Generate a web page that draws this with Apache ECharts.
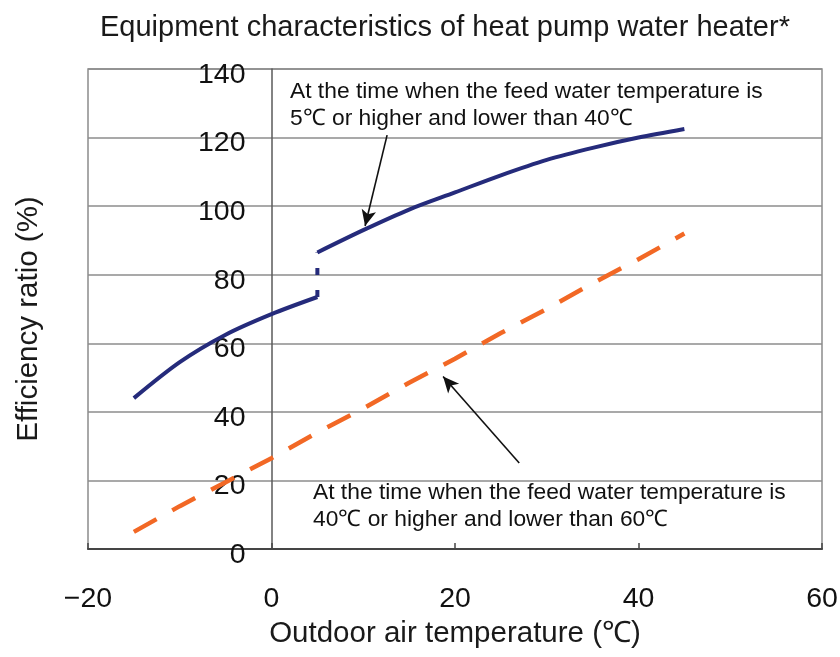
<!DOCTYPE html>
<html>
<head>
<meta charset="utf-8">
<script src="https://cdn.jsdelivr.net/npm/echarts@6/dist/echarts.min.js"></script>
<style>
  html, body { margin: 0; padding: 0; background: #fff; }
  #chart { width: 840px; height: 657px; }
</style>
</head>
<body>
<div id="chart"></div>
<script>
// Outdoor air temperature (°C) vs efficiency ratio (%)
const xTicks = { min: -20, max: 60, step: 20 };
const yTicks = { min: 0, max: 140, step: 20 };

// Feed water 5–40 °C: below 5 °C outdoor
const feed5to40Low = [[-15, 44], [-10, 54.5], [-5, 62.5], [0, 68.5], [5, 73.5]];
// Step at 5 °C outdoor
const feed5to40Step = [[5, 73.5], [5, 86.5]];
// Feed water 5–40 °C: 5 °C outdoor and above
const feed5to40High = [[5, 86.5], [10, 93], [15, 99], [20, 104], [25, 109], [30, 113.5], [35, 117], [40, 120], [45, 122.5]];
// Feed water 40–60 °C
const feed40to60 = [[-15, 5], [-10, 12.5], [-5, 19.5], [0, 26.5], [5, 34], [10, 41], [15, 48.5], [20, 55.5], [25, 63], [30, 70], [35, 77.5], [40, 84.5], [45, 92]];

const titleText = 'Equipment characteristics of heat pump water heater*';
const xName = 'Outdoor air temperature (\u2103)';
const yName = 'Efficiency ratio (%)';
const note1 = ['At the time when the feed water temperature is', '5\u2103 or higher and lower than 40\u2103'];
const note2 = ['At the time when the feed water temperature is', '40\u2103 or higher and lower than 60\u2103'];
// Arrow start/end in data coordinates
const arrow1 = [[12.6, 120.7], [10.2, 94.2]];
const arrow2 = [[27.0, 25.1], [18.7, 50.3]];

const FONT = '"Liberation Sans", Arial, sans-serif';
const NAVY = '#252b7b';
const ORANGE = '#f26825';

const GRID = { left: 88, right: 18, top: 69, bottom: 108 };
const PLOT_W = 840 - GRID.left - GRID.right;
// the y axis sits on x = 0
const yAxisShift = PLOT_W * (0 - xTicks.min) / (xTicks.max - xTicks.min);

const chart = echarts.init(document.getElementById('chart'), null, { renderer: 'canvas' });

const arrowLine = (pts) => ({
  silent: true,
  symbol: ['none', 'arrow'],
  symbolSize: [11, 16],
  label: { show: false },
  lineStyle: { color: '#111', width: 1.6, type: 'solid' },
  itemStyle: { color: '#111' },
  emphasis: { disabled: true },
  data: [[{ coord: pts[0] }, { coord: pts[1] }]]
});

chart.setOption({
  animation: false,
  backgroundColor: '#fff',
  textStyle: { fontFamily: FONT },
  title: {
    text: titleText,
    left: 95,
    top: 8,
    textStyle: { fontFamily: FONT, fontSize: 29, fontWeight: 'normal', color: '#1a1a1a' }
  },
  grid: {
    left: GRID.left, right: GRID.right, top: GRID.top, bottom: GRID.bottom,
    containLabel: false,
    outerBoundsMode: 'none',
    show: true, borderColor: '#8c8c8c', borderWidth: 1.5, backgroundColor: 'transparent'
  },
  xAxis: {
    type: 'value',
    min: xTicks.min, max: xTicks.max, interval: xTicks.step,
    name: xName,
    nameLocation: 'middle',
    nameGap: 70,
    nameTextStyle: { fontFamily: FONT, fontSize: 29.5, color: '#1a1a1a' },
    axisLine: { onZero: false, lineStyle: { color: '#454545', width: 2 } },
    axisTick: { show: true, inside: true, length: 6, lineStyle: { color: '#454545', width: 1.5 } },
    axisLabel: {
      fontFamily: FONT, fontSize: 28.5, color: '#111', margin: 36,
      formatter: v => (v < 0 ? '\u2212' + Math.abs(v) : String(v))
    },
    splitLine: { show: false }
  },
  yAxis: {
    type: 'value',
    min: yTicks.min, max: yTicks.max, interval: yTicks.step,
    offset: -yAxisShift,
    name: yName,
    nameLocation: 'middle',
    nameGap: 228,
    nameRotate: 90,
    nameTextStyle: { fontFamily: FONT, fontSize: 29.5, color: '#1a1a1a', padding: [0, 20, 0, 0] },
    axisLine: { show: true, onZero: false, lineStyle: { color: '#5a5a5a', width: 1.5 } },
    axisTick: { show: false },
    axisLabel: { fontFamily: FONT, fontSize: 28.5, color: '#111', margin: 26, verticalAlign: 'top', lineHeight: 12 },
    splitLine: { show: true, lineStyle: { color: '#8c8c8c', width: 1.5 } }
  },
  series: [
    {
      type: 'line', data: feed5to40Low, smooth: 0.3, showSymbol: false,
      lineStyle: { color: NAVY, width: 4 }, z: 3
    },
    {
      type: 'line', data: feed5to40Step, showSymbol: false,
      lineStyle: { color: NAVY, width: 4, type: [7, 15], cap: 'butt' }, z: 3
    },
    {
      type: 'line', data: feed5to40High, smooth: 0.3, showSymbol: false,
      lineStyle: { color: NAVY, width: 4 }, z: 3,
      markLine: arrowLine(arrow1)
    },
    {
      type: 'line', data: feed40to60, showSymbol: false,
      lineStyle: { color: ORANGE, width: 4.5, type: [26, 18] }, z: 3,
      markLine: arrowLine(arrow2)
    }
  ],
  graphic: [
    {
      type: 'text', left: 290, top: 78, z: 10,
      style: { text: note1.join('\n'), fontFamily: FONT, fontSize: 22.8, lineHeight: 27, fill: '#111' }
    },
    {
      type: 'text', left: 313, top: 479, z: 10,
      style: { text: note2.join('\n'), fontFamily: FONT, fontSize: 22.8, lineHeight: 27, fill: '#111' }
    }
  ]
});
</script>
</body>
</html>
